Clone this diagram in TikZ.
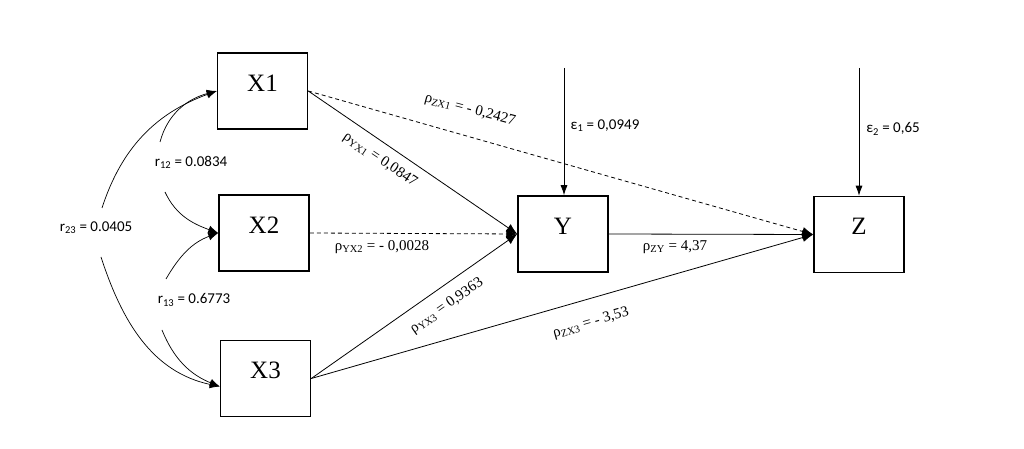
\documentclass[tikz,border=0pt]{standalone}
\usepackage{fontspec}
\setmainfont{Liberation Serif}
\newfontfamily\calfont{Carlito}
\usetikzlibrary{arrows.meta}
\tikzset{
  box/.style={draw, line width=1.5pt, minimum width=90pt, minimum height=76pt, inner sep=0pt,
    text height=17pt, text depth=16pt, font=\fontsize{25}{30}\selectfont},
  conn/.style={line width=0.8pt, -{Latex[length=11pt,width=9pt]}},
  dconn/.style={conn, dash pattern=on 4pt off 3pt},
  curv/.style={line width=0.7pt, -{Latex[length=10pt,width=8pt]}},
  curvs/.style={line width=0.7pt},
  eps/.style={line width=0.8pt, -{Latex[length=10pt,width=7pt]}},
  rho/.style={font=\fontsize{15}{18}\selectfont, inner sep=1pt},
  cal/.style={font=\calfont\fontsize{15}{18}\selectfont, inner sep=1pt}
}
\begin{document}
\begin{tikzpicture}[x=1pt,y=1pt]
\useasboundingbox (0,0) rectangle (1024,449);
% boxes
\node[box] (X1) at (262.5,358) {X1};
\node[box] (X2) at (264,216) {X2};
\node[box] (X3) at (265.5,70.5) {X3};
\node[box] (Y) at (563,215) {Y};
\node[box] (Z) at (859,214.5) {Z};
% error terms
\coordinate (e1) at (564,381);
\coordinate (e2) at (859,381);
\draw[eps] (e1) -- (Y.north -| e1);
\draw[eps] (e2) -- (Z.north);
\node[cal] (le1) at (605,323) {ε\textsubscript{1} = 0,0949};
\node[cal] (le2) at (893,320) {ε\textsubscript{2} = 0,65};
% paths
\draw[dconn] (X1.east) -- (Z.west);
\draw[conn] (X1.east) -- (Y.west);
\draw[dconn] (X2.east) -- (Y.west);
\draw[conn] (X3.east) -- (Y.west);
\draw[conn] (X3.east) -- (Z.west);
\draw[conn] (Y.east) -- (Z.west);
% path labels
\node[rho, rotate=-15] (lzx1) at (470,339) {ρ\textsubscript{ZX1} = - 0,2427};
\node[rho, rotate=-34] (lyx1) at (380,289) {ρ\textsubscript{YX1} = 0,0847};
\node[rho] (lyx2) at (382,202) {ρ\textsubscript{YX2} = - 0,0028};
\node[rho, rotate=35] (lyx3) at (447,143) {ρ\textsubscript{YX3} = 0,9363};
\node[rho, rotate=16] (lzx3) at (591,126) {ρ\textsubscript{ZX3} = - 3,53};
\node[rho] (lzy) at (675,202) {ρ\textsubscript{ZY} = 4,37};
% correlations
\coordinate (c12a) at (160,307);
\coordinate (c12b) at (165,257);
\coordinate (c23a) at (102,241);
\coordinate (c23b) at (101,192);
\coordinate (c13a) at (166,170);
\coordinate (c13b) at (162,119);
\coordinate (X3in) at ([yshift=-8pt]X3.west);
\draw[curv] (c12a) to[out=75,in=195] (X1.west);
\draw[curv] (c12b) to[out=-65,in=160] (X2.west);
\draw[curv] (c23a) to[out=72,in=200] (X1.west);
\draw[curv] (c23b) to[out=-72,in=168] (X3in);
\draw[curv] (c13a) to[out=60,in=200] (X2.west);
\draw[curv] (c13b) to[out=-68,in=158] (X3in);
\node[cal] (r12) at (191,287) {r\textsubscript{12} = 0.0834};
\node[cal] (r23) at (96,221) {r\textsubscript{23} = 0.0405};
\node[cal] (r13) at (194,149) {r\textsubscript{13} = 0.6773};
\end{tikzpicture}
\end{document}
